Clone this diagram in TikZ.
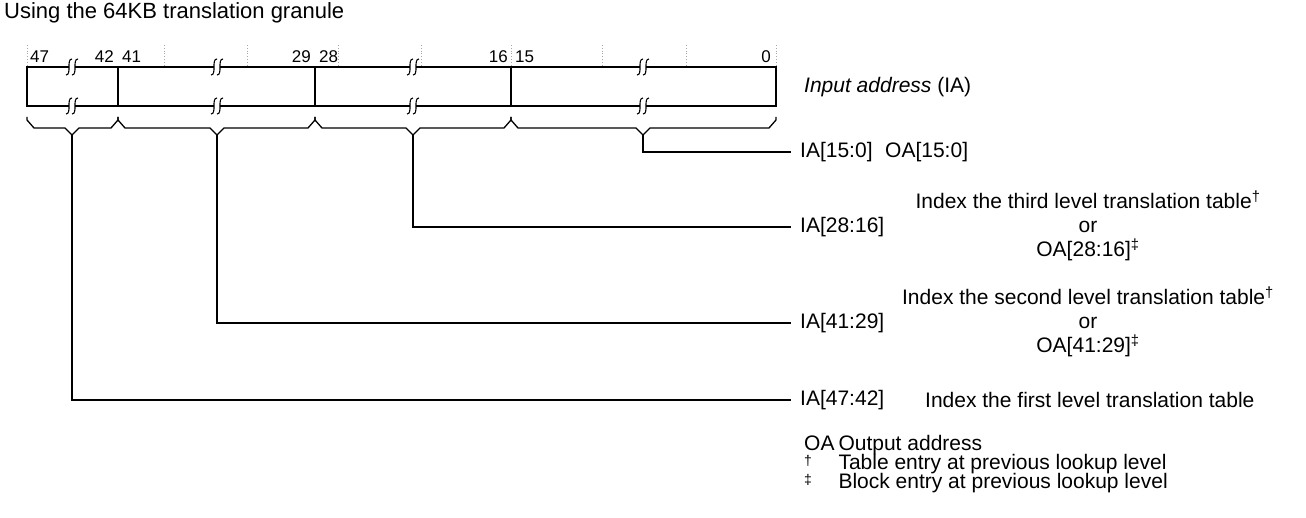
\documentclass[tikz,border=0pt]{standalone}
\usepackage{fontspec}
\setmainfont{Liberation Sans}
\usetikzlibrary{positioning}
\usetikzlibrary{calc}

\tikzset{
	regline/.style={line width=2pt},
	brace/.style={line width=1.3pt, line join=miter},
	lead/.style={line width=1.3pt},
	tickline/.style={gray!70, dotted, line width=0.8pt},
	bitnum/.style={font=\fontsize{17}{19}\selectfont, inner sep=0pt},
	txt/.style={font=\fontsize{21}{24}\selectfont, inner sep=0pt},
	lab/.style={txt, anchor=west, inner xsep=9pt, inner ysep=0pt},
}
% break mark on a register line
\newcommand{\brkmark}[2]{%
	\fill[white] (#1-3,#2-1.6) rectangle (#1+3,#2+1.6);
	\draw[line width=1.1pt] (#1-6,#2+8) .. controls (#1,#2+8) and (#1-6,#2-8) .. (#1,#2-8);
	\draw[line width=1.1pt] (#1,#2+8) .. controls (#1+6,#2+8) and (#1,#2-8) .. (#1+6,#2-8);
}
% brace below a field from #1 to #2, tip at #3
\newcommand{\fieldbrace}[3]{%
	\draw[brace] (#1,117) -- (#1,120) -- (#1+7,128) -- (#3-7,128) -- (#3,135)
		-- (#3+7,128) -- (#2-7,128) -- (#2,120) -- (#2,117);
}
\newcommand{\keymark}[1]{\raisebox{4pt}{\fontsize{14}{14}\selectfont #1}}

\begin{document}
\begin{tikzpicture}[x=1pt, y=-1pt]
	\useasboundingbox (0,0) rectangle (1306,518);
	\node[txt, font=\fontsize{22}{24}\selectfont, anchor=west] (title) at (4,13) {Using the 64KB translation granule};

	% dotted ticks and bit numbers
	\foreach \x in {27,164,247,338,421,511,602,686,776}
		\draw[tickline] (\x,45) -- (\x,66);
	\node[bitnum, anchor=west] (b47) at (30,57) {47};
	\node[bitnum, anchor=east] (b42) at (114,57) {42};
	\node[bitnum, anchor=west] (b41) at (122,57) {41};
	\node[bitnum, anchor=east] (b29) at (311,57) {29};
	\node[bitnum, anchor=west] (b28) at (319,57) {28};
	\node[bitnum, anchor=east] (b16) at (508,57) {16};
	\node[bitnum, anchor=west] (b15) at (515,57) {15};
	\node[bitnum, anchor=east] (b0) at (771,57) {0};

	% register
	\draw[regline] (27,67) rectangle (776,106);
	\foreach \x in {118,315,511}
		\draw[regline] (\x,67) -- (\x,106);
	\foreach \x in {72,217,413,643} {
		\brkmark{\x}{67}
		\brkmark{\x}{106}
	}
	\node[txt, anchor=west] (ia) at (804,87) {\textit{Input address} (IA)};

	% braces
	\fieldbrace{27}{118}{72}
	\fieldbrace{118}{315}{217}
	\fieldbrace{315}{511}{413}
	\fieldbrace{511}{776}{643}
	\coordinate (tipA) at (72,135);
	\coordinate (tipB) at (217,135);
	\coordinate (tipC) at (413,135);
	\coordinate (tipD) at (643,135);

	% field labels
	\node[lab] (ia150) at (791,152) {IA[15:0]};
	\node[txt, anchor=west] (oa150) at (885,152) {OA[15:0]};
	\node[lab] (ia2816) at (791,227) {IA[28:16]};
	\node[lab] (ia4129) at (791,323) {IA[41:29]};
	\node[lab] (ia4742) at (791,400) {IA[47:42]};
	\node[txt, anchor=west] (lvl1) at (925,400) {Index the first level translation table};
	\node[txt, align=center] (lvl3) at (1088,226) {Index the third level translation table\textsuperscript{\textdagger}\\or\\OA[28:16]\textsuperscript{\textdaggerdbl}};
	\node[txt, align=center] (lvl2) at (1088,322) {Index the second level translation table\textsuperscript{\textdagger}\\or\\OA[41:29]\textsuperscript{\textdaggerdbl}};

	\draw[lead] (tipD) |- (ia150.west);
	\draw[lead] (tipC) |- (ia2816.west);
	\draw[lead] (tipB) |- (ia4129.west);
	\draw[lead] (tipA) |- (ia4742.west);

	% key
	\node[txt, anchor=north west] (key) at (804,433) {%
		\begin{tabular}{@{}l@{\hspace{4pt}}l@{}}
			OA & Output address\\[-5pt]
			\keymark{\textdagger} & Table entry at previous lookup level\\[-5pt]
			\keymark{\textdaggerdbl} & Block entry at previous lookup level
		\end{tabular}};
\end{tikzpicture}
\end{document}
